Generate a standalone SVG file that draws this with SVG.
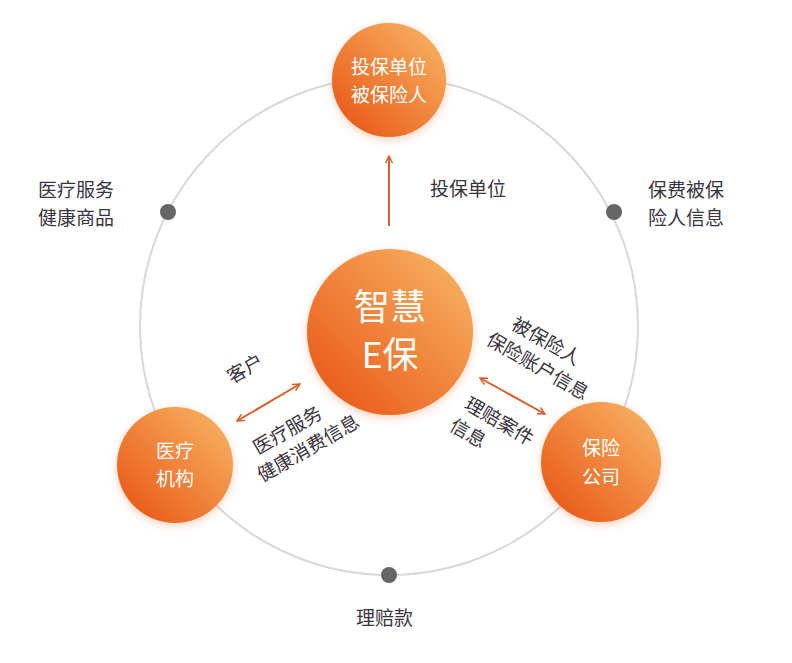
<svg xmlns="http://www.w3.org/2000/svg" width="792" height="663" viewBox="0 0 792 663">
<defs>
<linearGradient id="g" x1="0" y1="1" x2="1" y2="0">
<stop offset="0" stop-color="#e8500f"/><stop offset="1" stop-color="#f8b968"/>
</linearGradient>
<marker id="a" viewBox="0 0 10 10" refX="9" refY="5" markerWidth="9" markerHeight="9" orient="auto-start-reverse" markerUnits="userSpaceOnUse"><path d="M1,1 L9,5 L1,9" fill="none" stroke="#d9602a" stroke-width="1.6"/></marker>
<filter id="s" x="-20%" y="-20%" width="140%" height="140%"><feDropShadow dx="0" dy="3" stdDeviation="4" flood-color="#e8500f" flood-opacity="0.25"/></filter>
</defs>
<style>
.t{font-family:"Noto Sans CJK SC",sans-serif;font-size:19px;fill:#3a3440}
.n{font-family:"Noto Sans CJK SC",sans-serif;font-size:19px;fill:#fff;text-anchor:middle}
.b{font-size:36px}
.c{stroke:#d9602a;stroke-width:2;fill:none}
</style>
<rect width="792" height="663" fill="#fff"/>
<circle cx="389" cy="326" r="249" fill="none" stroke="#d8d8d8" stroke-width="2"/>
<g fill="#666"><circle cx="168" cy="212" r="8"/><circle cx="614" cy="212" r="8"/><circle cx="389" cy="575" r="8"/></g>
<g id="connectors">
<line class="c" x1="389" y1="226" x2="389" y2="156" marker-end="url(#a)"/>
<line class="c" x1="237" y1="421" x2="300" y2="384" marker-start="url(#a)" marker-end="url(#a)"/>
<line class="c" x1="480" y1="378" x2="545" y2="414" marker-start="url(#a)" marker-end="url(#a)"/>
</g>
<g id="top"><circle cx="389" cy="80" r="57" fill="url(#g)" filter="url(#s)"/><text class="n" x="389" y="74">投保单位</text><text class="n" x="389" y="102">被保险人</text></g>
<g id="center"><circle cx="390" cy="332" r="83" fill="url(#g)" filter="url(#s)"/><text class="n b" x="390" y="320">智慧</text><text class="n b" x="390" y="368">E保</text></g>
<g id="med"><circle cx="175" cy="465" r="58" fill="url(#g)" filter="url(#s)"/><text class="n" x="175" y="458">医疗</text><text class="n" x="175" y="486">机构</text></g>
<g id="ins"><circle cx="601" cy="462" r="60" fill="url(#g)" filter="url(#s)"/><text class="n" x="601" y="455">保险</text><text class="n" x="601" y="484">公司</text></g>
<text class="t" x="430" y="196">投保单位</text>
<text class="t" x="38" y="197">医疗服务</text><text class="t" x="38" y="225">健康商品</text>
<text class="t" x="648" y="197">保费被保</text><text class="t" x="648" y="225">险人信息</text>
<text class="t" x="356" y="625">理赔款</text>
<text class="t" transform="translate(232,384) rotate(-30)">客户</text>
<g transform="translate(258,455) rotate(-30)"><text class="t" x="0" y="0">医疗服务</text><text class="t" x="-10" y="26">健康消费信息</text></g>
<g transform="translate(510,328) rotate(30)"><text class="t" x="0" y="0">被保险人</text><text class="t" x="-14" y="26">保险账户信息</text></g>
<g transform="translate(463,408) rotate(30)"><text class="t" x="0" y="0">理赔案件</text><text class="t" x="-2" y="26">信息</text></g>
</svg>
